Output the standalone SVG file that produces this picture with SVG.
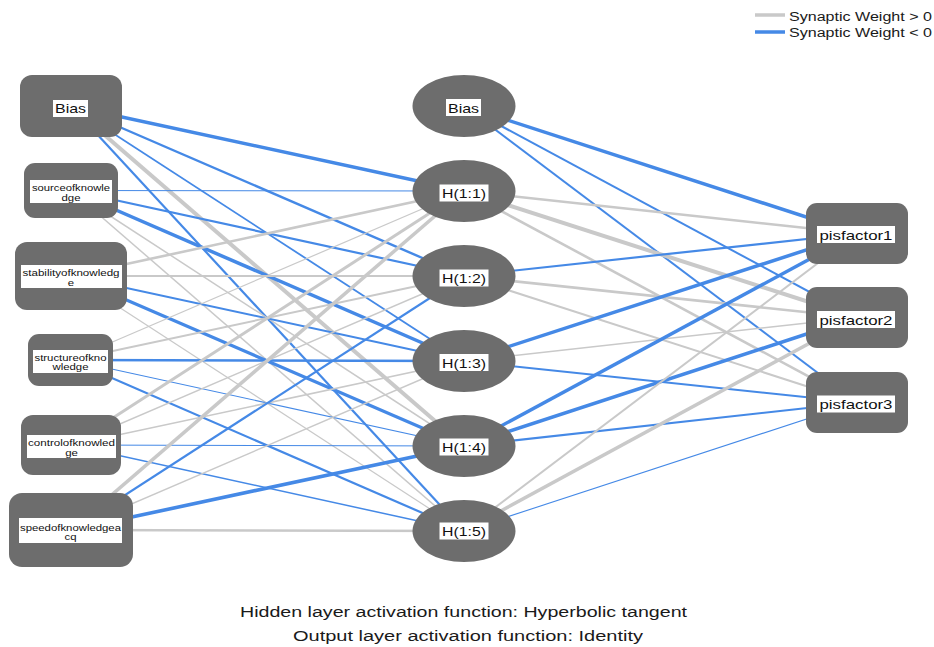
<svg xmlns="http://www.w3.org/2000/svg" width="934" height="647" viewBox="0 0 934 647">
  <style>
    .pos { stroke: #c9c9c9; fill: none; stroke-linecap: butt; }
    .neg { stroke: #4589e6; fill: none; stroke-linecap: butt; }
    .node { fill: #6d6d6d; }
    .lbl { fill: #ffffff; }
    text { font-family: "Liberation Sans", Arial, sans-serif; fill: #111111; }
    .small { font-size: 9px; }
    .mid { font-size: 13px; }
    .foot { font-size: 15.5px; fill: #1a1a1a; }
    .legend { font-size: 12px; fill: #1a1a1a; }
  </style>

  <rect width="934" height="647" fill="#ffffff"/>

  <!-- legend -->
  <g id="legend">
    <line x1="755" y1="15" x2="785" y2="15" class="pos" stroke-width="3.5"/>
    <text x="789" y="21" class="legend" textLength="143" lengthAdjust="spacingAndGlyphs">Synaptic Weight &gt; 0</text>
    <line x1="755" y1="32" x2="785" y2="32" class="neg" stroke-width="3.5"/>
    <text x="789" y="37" class="legend" textLength="143" lengthAdjust="spacingAndGlyphs">Synaptic Weight &lt; 0</text>
  </g>

  <!-- synaptic weights, drawn centre to centre beneath the nodes -->
  <g id="connectors">
    <!-- input bias -->
    <line x1="71" y1="106" x2="464" y2="191" class="neg" stroke-width="3.5"/>
    <line x1="71" y1="106" x2="464" y2="276" class="neg" stroke-width="2.4"/>
    <line x1="71" y1="106" x2="464" y2="361" class="neg" stroke-width="1.8"/>
    <line x1="71" y1="106" x2="464" y2="446" class="pos" stroke-width="4"/>
    <line x1="71" y1="106" x2="464" y2="531" class="neg" stroke-width="2.2"/>
    <!-- sourceofknowledge -->
    <line x1="71" y1="190.5" x2="464" y2="191" class="neg" stroke-width="1.1"/>
    <line x1="71" y1="190.5" x2="464" y2="276" class="neg" stroke-width="2.2"/>
    <line x1="71" y1="190.5" x2="464" y2="361" class="neg" stroke-width="3.5"/>
    <line x1="71" y1="190.5" x2="464" y2="446" class="pos" stroke-width="1.5"/>
    <line x1="71" y1="190.5" x2="464" y2="531" class="pos" stroke-width="1.5"/>
    <!-- stabilityofknowledge -->
    <line x1="71" y1="276" x2="464" y2="191" class="pos" stroke-width="2.6"/>
    <line x1="71" y1="276" x2="464" y2="276" class="pos" stroke-width="2"/>
    <line x1="71" y1="276" x2="464" y2="361" class="neg" stroke-width="2"/>
    <line x1="71" y1="276" x2="464" y2="446" class="neg" stroke-width="3.2"/>
    <line x1="71" y1="276" x2="464" y2="531" class="pos" stroke-width="1.2"/>
    <!-- structureofknowledge -->
    <line x1="70.5" y1="360" x2="464" y2="191" class="pos" stroke-width="1.2"/>
    <line x1="70.5" y1="360" x2="464" y2="276" class="pos" stroke-width="2"/>
    <line x1="70.5" y1="360" x2="464" y2="361" class="neg" stroke-width="2.5"/>
    <line x1="70.5" y1="360" x2="464" y2="446" class="neg" stroke-width="1.1"/>
    <line x1="70.5" y1="360" x2="464" y2="531" class="neg" stroke-width="2.2"/>
    <!-- controlofknowledge -->
    <line x1="71" y1="445" x2="464" y2="191" class="pos" stroke-width="3"/>
    <line x1="71" y1="445" x2="464" y2="276" class="pos" stroke-width="1.5"/>
    <line x1="71" y1="445" x2="464" y2="361" class="pos" stroke-width="1.5"/>
    <line x1="71" y1="445" x2="464" y2="446" class="neg" stroke-width="1.1"/>
    <line x1="71" y1="445" x2="464" y2="531" class="neg" stroke-width="1.5"/>
    <!-- speedofknowledgeacq -->
    <line x1="71" y1="530" x2="464" y2="191" class="pos" stroke-width="3.5"/>
    <line x1="71" y1="530" x2="464" y2="276" class="neg" stroke-width="2.2"/>
    <line x1="71" y1="530" x2="464" y2="361" class="pos" stroke-width="1.5"/>
    <line x1="71" y1="530" x2="464" y2="446" class="neg" stroke-width="3.6"/>
    <line x1="71" y1="530" x2="464" y2="531" class="pos" stroke-width="2.6"/>

    <!-- hidden bias -->
    <line x1="464" y1="106" x2="857" y2="233.5" class="neg" stroke-width="3.5"/>
    <line x1="464" y1="106" x2="857" y2="317.5" class="neg" stroke-width="2"/>
    <line x1="464" y1="106" x2="857" y2="402.5" class="neg" stroke-width="2"/>
    <!-- H(1:1) -->
    <line x1="464" y1="191" x2="857" y2="233.5" class="pos" stroke-width="2.6"/>
    <line x1="464" y1="191" x2="857" y2="317.5" class="pos" stroke-width="4"/>
    <line x1="464" y1="191" x2="857" y2="402.5" class="pos" stroke-width="2.6"/>
    <!-- H(1:2) -->
    <line x1="464" y1="276" x2="857" y2="233.5" class="neg" stroke-width="2.2"/>
    <line x1="464" y1="276" x2="857" y2="317.5" class="pos" stroke-width="2.6"/>
    <line x1="464" y1="276" x2="857" y2="402.5" class="pos" stroke-width="2"/>
    <!-- H(1:3) -->
    <line x1="464" y1="361" x2="857" y2="233.5" class="neg" stroke-width="3.5"/>
    <line x1="464" y1="361" x2="857" y2="317.5" class="pos" stroke-width="1.5"/>
    <line x1="464" y1="361" x2="857" y2="402.5" class="neg" stroke-width="2"/>
    <!-- H(1:4) -->
    <line x1="464" y1="446" x2="857" y2="233.5" class="neg" stroke-width="3.5"/>
    <line x1="464" y1="446" x2="857" y2="317.5" class="neg" stroke-width="3.5"/>
    <line x1="464" y1="446" x2="857" y2="402.5" class="neg" stroke-width="2"/>
    <!-- H(1:5) -->
    <line x1="464" y1="531" x2="857" y2="233.5" class="pos" stroke-width="2"/>
    <line x1="464" y1="531" x2="857" y2="317.5" class="pos" stroke-width="3.5"/>
    <line x1="464" y1="531" x2="857" y2="402.5" class="neg" stroke-width="1.1"/>
  </g>

  <!-- input layer -->
  <g id="in-bias">
    <rect x="20" y="75" width="102" height="62" rx="12" class="node"/>
    <rect x="53" y="100" width="35" height="17" class="lbl"/>
    <text x="70.5" y="113" class="mid" text-anchor="middle" textLength="31" lengthAdjust="spacingAndGlyphs">Bias</text>
  </g>
  <g id="in-source">
    <rect x="24" y="163" width="94" height="55" rx="11" class="node"/>
    <rect x="30" y="180" width="82" height="23" class="lbl"/>
    <text x="71" y="191" class="small" text-anchor="middle" textLength="78" lengthAdjust="spacingAndGlyphs">sourceofknowle</text>
    <text x="71" y="200.5" class="small" text-anchor="middle" textLength="19" lengthAdjust="spacingAndGlyphs">dge</text>
  </g>
  <g id="in-stability">
    <rect x="15" y="242" width="112" height="68" rx="12" class="node"/>
    <rect x="21" y="265" width="101" height="23" class="lbl"/>
    <text x="71" y="276" class="small" text-anchor="middle" textLength="97" lengthAdjust="spacingAndGlyphs">stabilityofknowledg</text>
    <text x="71" y="285.5" class="small" text-anchor="middle" textLength="6.3" lengthAdjust="spacingAndGlyphs">e</text>
  </g>
  <g id="in-structure">
    <rect x="28" y="334" width="85" height="52" rx="11" class="node"/>
    <rect x="33" y="350" width="75" height="23" class="lbl"/>
    <text x="70.5" y="360.5" class="small" text-anchor="middle" textLength="72" lengthAdjust="spacingAndGlyphs">structureofkno</text>
    <text x="70.5" y="370" class="small" text-anchor="middle" textLength="36" lengthAdjust="spacingAndGlyphs">wledge</text>
  </g>
  <g id="in-control">
    <rect x="21" y="415" width="100" height="60" rx="12" class="node"/>
    <rect x="27" y="435" width="89" height="23" class="lbl"/>
    <text x="71.5" y="446" class="small" text-anchor="middle" textLength="87" lengthAdjust="spacingAndGlyphs">controlofknowled</text>
    <text x="71.5" y="455.5" class="small" text-anchor="middle" textLength="12.7" lengthAdjust="spacingAndGlyphs">ge</text>
  </g>
  <g id="in-speed">
    <rect x="9" y="493" width="124" height="74" rx="13" class="node"/>
    <rect x="19" y="518" width="103" height="25" class="lbl"/>
    <text x="70.5" y="530.5" class="small" text-anchor="middle" textLength="101" lengthAdjust="spacingAndGlyphs">speedofknowledgea</text>
    <text x="70.5" y="540" class="small" text-anchor="middle" textLength="12" lengthAdjust="spacingAndGlyphs">cq</text>
  </g>

  <!-- hidden layer -->
  <g id="hid-bias">
    <ellipse cx="464" cy="106" rx="51.5" ry="31" class="node"/>
    <rect x="446" y="99" width="35" height="17" class="lbl"/>
    <text x="463.5" y="112.5" class="mid" text-anchor="middle" textLength="31" lengthAdjust="spacingAndGlyphs">Bias</text>
  </g>
  <g id="hid-1">
    <ellipse cx="464" cy="191" rx="51.5" ry="31" class="node"/>
    <rect x="439.5" y="184.5" width="49" height="17" class="lbl"/>
    <text x="464" y="198" class="mid" text-anchor="middle" textLength="44" lengthAdjust="spacingAndGlyphs">H(1:1)</text>
  </g>
  <g id="hid-2">
    <ellipse cx="464" cy="276" rx="51.5" ry="31" class="node"/>
    <rect x="439.5" y="269.5" width="49" height="17" class="lbl"/>
    <text x="464" y="283" class="mid" text-anchor="middle" textLength="44" lengthAdjust="spacingAndGlyphs">H(1:2)</text>
  </g>
  <g id="hid-3">
    <ellipse cx="464" cy="361" rx="51.5" ry="31" class="node"/>
    <rect x="439.5" y="354" width="49" height="17" class="lbl"/>
    <text x="464" y="367.5" class="mid" text-anchor="middle" textLength="44" lengthAdjust="spacingAndGlyphs">H(1:3)</text>
  </g>
  <g id="hid-4">
    <ellipse cx="464" cy="446" rx="51.5" ry="31" class="node"/>
    <rect x="439.5" y="438.5" width="49" height="17" class="lbl"/>
    <text x="464" y="452" class="mid" text-anchor="middle" textLength="44" lengthAdjust="spacingAndGlyphs">H(1:4)</text>
  </g>
  <g id="hid-5">
    <ellipse cx="464" cy="531" rx="51.5" ry="31" class="node"/>
    <rect x="439.5" y="522.5" width="49" height="17" class="lbl"/>
    <text x="464" y="536" class="mid" text-anchor="middle" textLength="44" lengthAdjust="spacingAndGlyphs">H(1:5)</text>
  </g>

  <!-- output layer -->
  <g id="out-1">
    <rect x="806" y="203" width="102" height="61" rx="11" class="node"/>
    <rect x="817" y="226" width="78" height="17" class="lbl"/>
    <text x="856" y="239.5" class="mid" text-anchor="middle" textLength="73" lengthAdjust="spacingAndGlyphs">pisfactor1</text>
  </g>
  <g id="out-2">
    <rect x="806" y="287" width="102" height="61" rx="11" class="node"/>
    <rect x="817" y="311" width="78" height="17" class="lbl"/>
    <text x="856" y="324.5" class="mid" text-anchor="middle" textLength="73" lengthAdjust="spacingAndGlyphs">pisfactor2</text>
  </g>
  <g id="out-3">
    <rect x="806" y="372" width="102" height="61" rx="11" class="node"/>
    <rect x="817" y="395.5" width="78" height="17" class="lbl"/>
    <text x="856" y="409" class="mid" text-anchor="middle" textLength="73" lengthAdjust="spacingAndGlyphs">pisfactor3</text>
  </g>

  <!-- activation notes -->
  <g id="notes">
    <text x="240" y="617" class="foot" textLength="447" lengthAdjust="spacingAndGlyphs">Hidden layer activation function: Hyperbolic tangent</text>
    <text x="293" y="641" class="foot" textLength="350" lengthAdjust="spacingAndGlyphs">Output layer activation function: Identity</text>
  </g>
</svg>
